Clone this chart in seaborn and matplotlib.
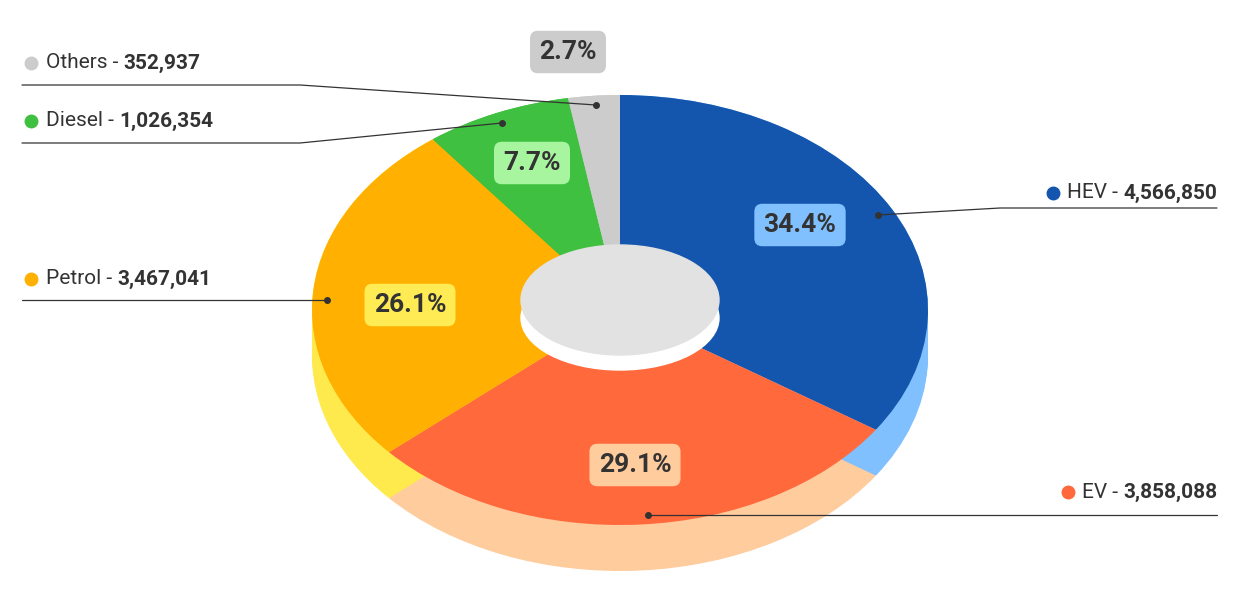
import matplotlib
matplotlib.use("Agg")
import matplotlib.pyplot as plt
import seaborn as sns
from matplotlib.patches import Ellipse

# data
fuels = ["HEV", "EV", "Petrol", "Diesel", "Others"]
units = [4566850, 3858088, 3467041, 1026354, 352937]
shares = [34.4, 29.1, 26.1, 7.7, 2.7]
top_colors = ["#1455ad", "#ff693b", "#ffb000", "#40c040", "#cccccc"]
side_colors = ["#80c0ff", "#ffcc9e", "#ffea4d", "#40c040", "#cccccc"]
box_colors = ["#80c0ff", "#ffcc9e", "#ffec55", "#a8f5a0", "#cccccc"]

sns.set_style("white")
plt.rcParams["font.family"] = ["Roboto", "DejaVu Sans"]

W, H = 1240, 608
fig = plt.figure(figsize=(W / 100, H / 100), dpi=100)

# pie axes, stretched into an ellipse (3D look)
cx, cy, rx, ry, depth = 620, 310, 308, 215, 46
pax = fig.add_axes([(cx - rx) / W, 1 - (cy + ry + depth) / H, 2 * rx / W, (2 * ry + depth) / H])
d = depth / ry
for k in range(21):
    pax.pie(shares, colors=side_colors, startangle=90, counterclock=False,
            center=(0, -d * k / 20), radius=1, frame=True,
            wedgeprops=dict(linewidth=0))
pax.pie(shares, colors=top_colors, startangle=90, counterclock=False,
        center=(0, 0), radius=1, frame=True, wedgeprops=dict(linewidth=0))
pax.set_aspect("auto")
pax.set_xlim(-1, 1)
pax.set_ylim(-1 - d, 1)
pax.axis("off")

# overlay axes in pixel coords
ax = fig.add_axes([0, 0, 1, 1])
ax.set_xlim(0, W)
ax.set_ylim(H, 0)
ax.axis("off")
ax.patch.set_alpha(0)

# centre hole with pedestal
ax.add_patch(Ellipse((620, 318), 198, 104, color="white", zorder=2))
ax.add_patch(Ellipse((620, 300), 198, 110, color="#e2e2e2", zorder=3))

# percentage boxes
box_pos = [(800, 225), (635, 465), (410, 305), (532, 163), (568, 52)]
for s, bc, (x, y) in zip(shares, box_colors, box_pos):
    ax.text(x, y, f"{s}%", ha="center", va="center", fontsize=19, fontweight="bold",
            color="#333333", zorder=5,
            bbox=dict(boxstyle="round,pad=0.35,rounding_size=0.3", fc=bc, ec="none"))

# leader lines: (dot, elbow, end, text_y, side)
leaders = [
    ((878, 215), (1000, 208), (1217, 208), 193, "r"),
    ((648, 515), (1000, 515), (1217, 515), 492, "r"),
    ((327, 300), (300, 300), (22, 300), 279, "l"),
    ((502, 123), (300, 143), (22, 143), 121, "l"),
    ((596, 105), (300, 85), (22, 85), 63, "l"),
]
fig.canvas.draw()
r = fig.canvas.get_renderer()
for name, val, col, (p, e, end, ty, side) in zip(fuels, units, top_colors, leaders):
    ax.plot([p[0], e[0], end[0]], [p[1], e[1], end[1]], color="#333333", lw=0.9, zorder=6)
    ax.plot(*p, "o", color="#333333", ms=4, zorder=6)
    num = f"{val:,}"
    if side == "r":
        t = ax.text(1217, ty, num, ha="right", va="center", fontsize=15, fontweight="bold", color="#333333")
        x0 = t.get_window_extent(r).x0
        t2 = ax.text(x0, ty, f"{name} - ", ha="right", va="center", fontsize=15, color="#333333")
        x1 = t2.get_window_extent(r).x0
        ax.plot(x1 - 14, ty, "o", color=col, ms=9)
    else:
        ax.plot(31, ty, "o", color=col, ms=9)
        t2 = ax.text(46, ty, f"{name} - ", ha="left", va="center", fontsize=15, color="#333333")
        x1 = t2.get_window_extent(r).x1
        ax.text(x1, ty, num, ha="left", va="center", fontsize=15, fontweight="bold", color="#333333")

fig.savefig("out.png", dpi=100)
